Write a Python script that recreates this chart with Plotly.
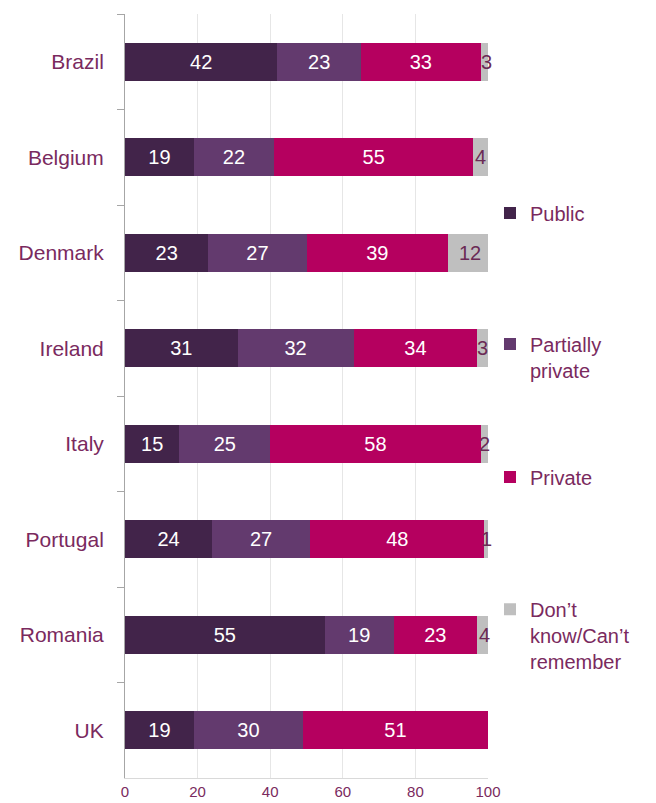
import plotly.graph_objects as go

countries = ["Brazil", "Belgium", "Denmark", "Ireland", "Italy", "Portugal", "Romania", "UK"]
public = [42, 19, 23, 31, 15, 24, 55, 19]
partial = [23, 22, 27, 32, 25, 27, 19, 30]
private = [33, 55, 39, 34, 58, 48, 23, 51]
dontknow = [3, 4, 12, 3, 2, 1, 4, 1]

series_names = ["Public", "Partially<br>private", "Private", "Don’t<br>know/Can’t<br>remember"]
series_values = [public, partial, private, dontknow]
series_colors = ["#42244A", "#633A6E", "#B5005F", "#BFBFBF"]
legend_ids = ["legend", "legend2", "legend3", "legend4"]
legend_y = [0.7395, 0.551, 0.394, 0.187]

label_color = "#7A2A5E"
font_family = "Liberation Sans, Arial, sans-serif"

fig = go.Figure()
for i, (name, vals, color) in enumerate(zip(series_names, series_values, series_colors)):
    last = i == len(series_names) - 1
    fig.add_trace(go.Bar(
        y=countries, x=vals, name=name, orientation="h",
        marker=dict(color=color, line=dict(width=0)),
        text=None if last else [str(v) for v in vals],
        textposition="none" if last else "inside",
        insidetextanchor="middle", constraintext="none",
        textfont=dict(color="white", size=20, family=font_family),
        legend=legend_ids[i],
    ))

# labels for the small grey segments, centred on the segment and allowed to overflow
for c, a, b, p, d in zip(countries, public, partial, private, dontknow):
    fig.add_annotation(
        x=a + b + p + d / 2, y=c, text=str(d), showarrow=False,
        font=dict(size=20, color="#6B2A55", family=font_family),
        xanchor="center", yanchor="middle",
    )

legend_style = dict(
    x=1.0055, xanchor="left", yanchor="middle",
    font=dict(size=20, color=label_color, family=font_family),
    itemwidth=30, valign="top", bgcolor="rgba(0,0,0,0)",
)

# the page adds an 8px body margin, so the figure is 8px smaller than the window
fig.update_layout(
    barmode="stack", bargap=0.6,
    width=648, height=795,
    margin=dict(l=117, r=168, t=6, b=25, autoexpand=False),
    plot_bgcolor="white", paper_bgcolor="white",
    font=dict(family=font_family, color=label_color),
    showlegend=True,
    legend=dict(y=legend_y[0], **legend_style),
    legend2=dict(y=legend_y[1], **legend_style),
    legend3=dict(y=legend_y[2], **legend_style),
    legend4=dict(y=legend_y[3], **legend_style),
    xaxis=dict(
        range=[0, 100], tickvals=[0, 20, 40, 60, 80, 100],
        showgrid=True, gridcolor="#E6E6E6", gridwidth=1,
        zeroline=False, showline=True, linecolor="#D9D9D9",
        tickfont=dict(size=15, color=label_color), ticks="",
        automargin=False,
    ),
    yaxis=dict(
        autorange="reversed", showline=True, linecolor="#A6A6A6",
        ticks="outside", tickson="boundaries", ticklen=7, tickcolor="#A6A6A6",
        tickfont=dict(size=21, color=label_color), ticklabelstandoff=16,
        automargin=False,
    ),
)

fig.write_html("out.html")
